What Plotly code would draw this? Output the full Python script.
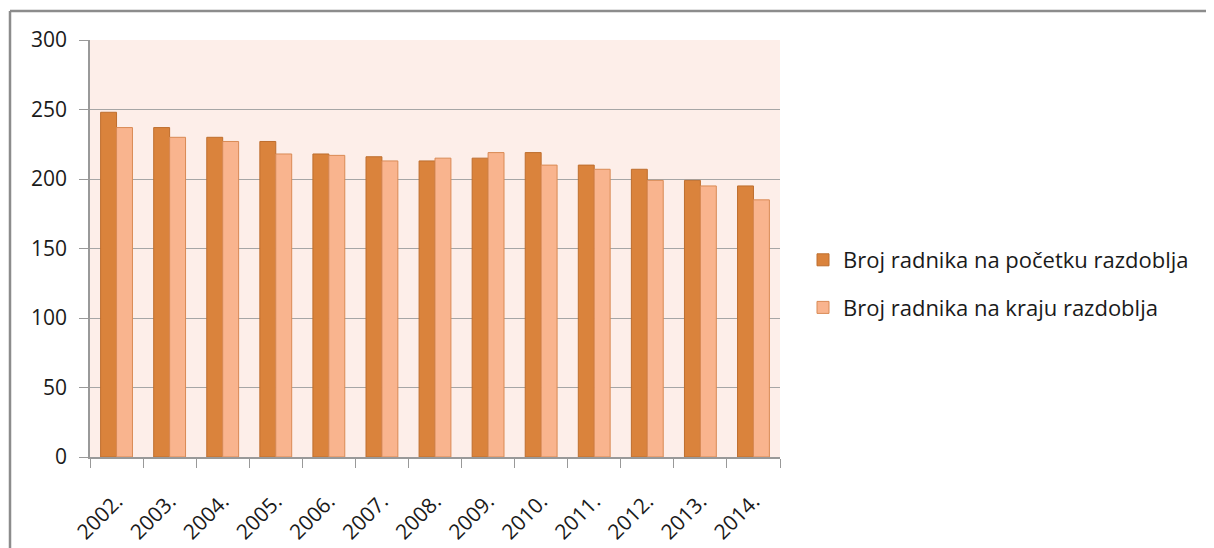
import plotly.graph_objects as go

years = ["2002.", "2003.", "2004.", "2005.", "2006.", "2007.", "2008.",
         "2009.", "2010.", "2011.", "2012.", "2013.", "2014."]
pocetak = [248, 237, 230, 227, 218, 216, 213, 215, 219, 210, 207, 199, 195]
kraj = [237, 230, 227, 218, 217, 213, 215, 219, 210, 207, 199, 195, 185]
name_start = "Broj radnika na početku razdoblja"
name_end = "Broj radnika na kraju razdoblja"
y_ticks = [0, 50, 100, 150, 200, 250, 300]

# page has an 8px body margin; figure is placed at (8, 8)
OFF = 8
W, H = 1214 - OFF, 548 - OFF
L, T = 90 - OFF, 40 - OFF
R = W - (780 - OFF)
B = H - (457 - OFF)
pw, ph = W - L - R, H - T - B

fig = go.Figure()
fig.add_trace(go.Bar(x=years, y=pocetak, name=name_start, legendgroup="a",
                     marker=dict(color="#DA833C", line=dict(color="#BE6E2E", width=1))))
fig.add_trace(go.Bar(x=years, y=kraj, name=name_end, legendgroup="b",
                     marker=dict(color="#F9B48E", line=dict(color="#D98A55", width=1))))

def px_x(p):
    return (p - OFF - L) / pw

def px_y(p):
    return (H - B - (p - OFF)) / ph

fig.update_layout(
    width=W, height=H,
    margin=dict(l=L, r=R, t=T, b=B, autoexpand=False),
    paper_bgcolor="white",
    plot_bgcolor="#FDEEE9",
    barmode="group", bargap=0.4, bargroupgap=0,
    font=dict(family="Open Sans, sans-serif", color="#1a1a1a"),
    legend=dict(x=px_x(803), y=px_y(239), xanchor="left", yanchor="top",
                font=dict(size=22), tracegroupgap=16, itemwidth=30,
                bgcolor="rgba(0,0,0,0)"),
    xaxis=dict(type="category", tickson="boundaries", ticks="outside", ticklen=9,
               tickcolor="#999999", showline=True, linecolor="#999999", linewidth=1.5,
               tickangle=-45, tickfont=dict(size=21), showgrid=False,
               ticklabelstandoff=22),
    yaxis=dict(range=[0, 300], tickvals=y_ticks, ticks="outside", ticklen=9,
               tickcolor="#999999", showline=True, linecolor="#999999", linewidth=1.5,
               gridcolor="#A6A6A6", gridwidth=1, tickfont=dict(size=21),
               zeroline=False, ticklabelstandoff=8),
    shapes=[
        dict(type="line", xref="paper", yref="paper", x0=px_x(10), x1=px_x(1230),
             y0=px_y(11), y1=px_y(11), line=dict(color="#8C8C8C", width=2.5)),
        dict(type="line", xref="paper", yref="paper", x0=px_x(10), x1=px_x(10),
             y0=px_y(11), y1=px_y(570), line=dict(color="#8C8C8C", width=2.5)),
    ],
)

fig.write_html("out.html")
